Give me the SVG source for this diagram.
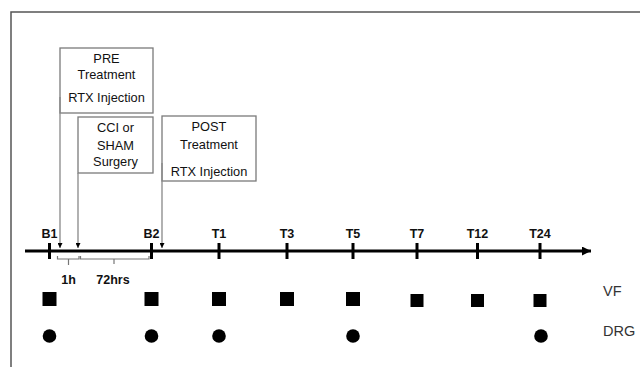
<svg xmlns="http://www.w3.org/2000/svg" width="640" height="367" viewBox="0 0 640 367">
<defs>
<style>
.box{fill:#fff;stroke:#7a7a7a;stroke-width:1.3}
.bt{font-family:"Liberation Sans",Arial,sans-serif;font-size:12.8px;fill:#111;text-anchor:middle}
.lb{font-family:"Liberation Sans",Arial,sans-serif;font-size:12.5px;font-weight:bold;fill:#111;text-anchor:middle}
.rl{font-family:"Liberation Sans",Arial,sans-serif;font-size:14.5px;fill:#333}
.conn{stroke:#888;stroke-width:1.3;fill:none}
.tick{stroke:#000;stroke-width:3}
.br{stroke:#777;stroke-width:1.2;fill:none}
</style>
<marker id="ah" viewBox="0 0 8 8" refX="8" refY="4" markerWidth="5" markerHeight="5" orient="auto" markerUnits="userSpaceOnUse">
<path d="M0,0 L8,4 L0,8 z" fill="#000"/>
</marker>
<marker id="axh" viewBox="0 0 10 10" refX="10" refY="5" markerWidth="9" markerHeight="9" orient="auto" markerUnits="userSpaceOnUse">
<path d="M0,0 L10,5 L0,10 z" fill="#000"/>
</marker>
</defs>
<rect width="640" height="367" fill="#fff"/>
<path d="M11,367 V12 H640" fill="none" stroke="#555" stroke-width="1.5"/>

<g id="pre">
<rect class="box" x="60" y="48" width="93" height="65"/>
<text class="bt" x="106.5" y="63">PRE</text>
<text class="bt" x="106.5" y="79">Treatment</text>
<text class="bt" x="106.5" y="102">RTX Injection</text>
</g>
<g id="cci">
<rect class="box" x="78" y="117" width="75" height="56"/>
<text class="bt" x="115.5" y="132">CCI or</text>
<text class="bt" x="115.5" y="150">SHAM</text>
<text class="bt" x="115.5" y="166">Surgery</text>
</g>
<g id="post">
<rect class="box" x="162" y="116" width="94" height="65"/>
<text class="bt" x="209" y="131">POST</text>
<text class="bt" x="209" y="149">Treatment</text>
<text class="bt" x="209" y="176">RTX Injection</text>
</g>

<g id="connectors">
<line class="conn" x1="60" y1="97" x2="60" y2="248" marker-end="url(#ah)"/>
<line class="conn" x1="78" y1="173" x2="78" y2="248" marker-end="url(#ah)"/>
<line class="conn" x1="162" y1="163" x2="162" y2="248" marker-end="url(#ah)"/>
</g>

<g id="axis">
<line x1="25" y1="251" x2="591" y2="251" stroke="#000" stroke-width="3" marker-end="url(#axh)"/>
<line class="tick" x1="49.5" y1="243" x2="49.5" y2="259"/>
<line class="tick" x1="151.5" y1="243" x2="151.5" y2="259"/>
<line class="tick" x1="219" y1="243" x2="219" y2="259"/>
<line class="tick" x1="287" y1="243" x2="287" y2="259"/>
<line class="tick" x1="353" y1="243" x2="353" y2="259"/>
<line class="tick" x1="417" y1="243" x2="417" y2="259"/>
<line class="tick" x1="477.5" y1="243" x2="477.5" y2="259"/>
<line class="tick" x1="540" y1="243" x2="540" y2="259"/>
<text class="lb" x="49.5" y="238">B1</text>
<text class="lb" x="151.5" y="238">B2</text>
<text class="lb" x="219" y="238">T1</text>
<text class="lb" x="287" y="238">T3</text>
<text class="lb" x="353" y="238">T5</text>
<text class="lb" x="417" y="238">T7</text>
<text class="lb" x="477.5" y="238">T12</text>
<text class="lb" x="540" y="238">T24</text>
</g>

<g id="brackets">
<path class="br" d="M57.5,256 V259 H79 V256 M68.5,259 V265"/>
<path class="br" d="M80.5,256 V259 H149 V256 M114,259 V264"/>
<text class="lb" x="68.5" y="284">1h</text>
<text class="lb" x="113" y="284">72hrs</text>
</g>

<g id="vf">
<rect x="42.5" y="292" width="14" height="14" fill="#000"/>
<rect x="144.5" y="292" width="14" height="14" fill="#000"/>
<rect x="212" y="292" width="14" height="14" fill="#000"/>
<rect x="280" y="292" width="14" height="14" fill="#000"/>
<rect x="346" y="292" width="14" height="14" fill="#000"/>
<rect x="410.5" y="294" width="13" height="13" fill="#000"/>
<rect x="471" y="294" width="13" height="13" fill="#000"/>
<rect x="533.5" y="294" width="13" height="13" fill="#000"/>
<text class="rl" x="603" y="296">VF</text>
</g>

<g id="drg">
<circle cx="49.5" cy="336" r="6.8" fill="#000"/>
<circle cx="151.5" cy="336" r="6.8" fill="#000"/>
<circle cx="219" cy="336" r="6.8" fill="#000"/>
<circle cx="353" cy="336" r="6.8" fill="#000"/>
<circle cx="541" cy="336" r="6.8" fill="#000"/>
<text class="rl" x="603" y="336">DRG</text>
</g>
</svg>
